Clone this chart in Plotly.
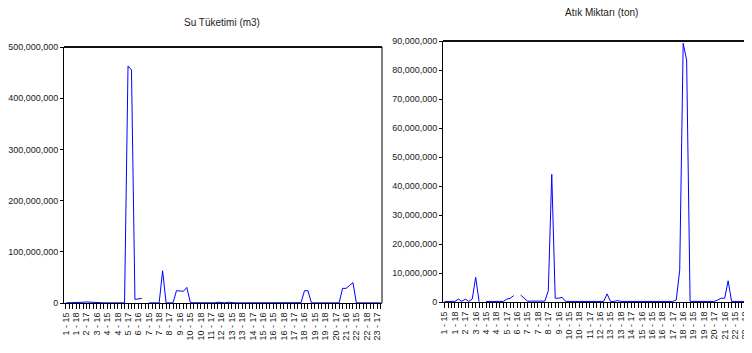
import plotly.graph_objects as go

# observation index 0..91 (23 units x years 15..18)
obs_index = list(range(92))
tick_positions = list(range(0, 92, 3))
tick_labels = ["1 - 15", "1 - 18", "2 - 17", "3 - 16", "4 - 15", "4 - 18", "5 - 17", "6 - 16",
               "7 - 15", "7 - 18", "8 - 17", "9 - 16", "10 - 15", "10 - 18", "11 - 17", "12 - 16",
               "13 - 15", "13 - 18", "14 - 17", "15 - 16", "16 - 15", "16 - 18", "17 - 17", "18 - 16",
               "19 - 15", "19 - 18", "20 - 17", "21 - 16", "22 - 15", "22 - 18", "23 - 17"]

N = None
# Su Tüketimi (m3), millions
su_tuketimi_m = [0.3, 0.3, 0.3, 0.3, 0.3, 1.5, 2.0, 1.5, 0.3, 0.3,
                 0.3, 0.3, 0.3, 0.3, 0.3, 0.3, 0.3, 0.3, 463, 455,
                 7.0, 7.5, 9.0, N, 0.3, 0.3, 0.3, 0.3, 63, 0.3,
                 0.3, 0.3, 24, 23.5, 23, 30.5, 1.0, 0.5, 0.3, 0.3,
                 0.3, 0.3, 0.3, 0.3, 1.5, 0.5, 0.3, 1.5, 0.3, 0.3,
                 0.3, 0.3, 0.3, 0.3, 0.3, 0.3, 0.3, 0.3, 0.3, 0.3,
                 0.3, 0.6, 0.6, 0.6, 0.6, 0.6, 0.6, 0.6, 0.6, 24,
                 24, 0.3, 0.3, 0.3, 0.3, 0.3, 0.3, 0.3, 0.3, 0.3,
                 28.6, 28.6, 34, 40, 0.3, 0.3, 0.3, 0.3, 0.3, 0.3,
                 0.3, 0.3]

# Atık Miktarı (ton), millions
atik_miktari_m = [0.2, 0.2, 0.2, 0.2, 1.0, 0.2, 1.0, 0.2, 1.0, 8.5,
                  0.1, N, 0.2, 0.2, 0.2, 0.2, 0.2, 0.2, 1.0, 1.3,
                  2.2, N, 2.4, 1.3, 0.3, 0.3, 0.3, 0.3, 0.3, 0.3,
                  3.9, 44, 1.3, 1.3, 1.6, 0.2, 0.2, 0.2, 0.2, 0.2,
                  0.2, 0.2, 0.2, 0.2, 0.2, 0.2, 0.2, 2.8, 0.2, 0.2,
                  0.5, 0.2, 0.2, 0.2, 0.2, 0.2, 0.2, 0.2, 0.2, 0.2,
                  0.2, 0.2, 0.2, 0.2, 0.2, 0.2, 0.2, 0.7, 11, 89.2,
                  83.4, 0.2, 0.2, 0.2, 0.2, 0.2, 0.2, 0.2, 0.2, 0.7,
                  1.3, 1.3, 7.3, 0.2, 0.2, 0.2, 0.2, 0.2, 0.2, 0.2,
                  0.2, 0.2]

su_vals = [v * 1e6 if v is not None else None for v in su_tuketimi_m]
atik_vals = [v * 1e6 if v is not None else None for v in atik_miktari_m]

# page has an 8px body margin; figure drawn at (8, 8) on a 752x353 window
OFF = 8
W, H = 752 - OFF, 353 - OFF
FONT = "Liberation Sans, Arial, sans-serif"
TXT = "#1a1a1a"

fig = go.Figure()
fig.add_trace(go.Scatter(x=obs_index, y=su_vals, mode="lines", line=dict(color="#0000ff", width=1),
                         connectgaps=False, xaxis="x", yaxis="y", showlegend=False, hoverinfo="skip"))
fig.add_trace(go.Scatter(x=obs_index, y=atik_vals, mode="lines", line=dict(color="#0000ff", width=1),
                         connectgaps=False, xaxis="x2", yaxis="y2", showlegend=False, hoverinfo="skip"))

def px_x(p):
    return (p - OFF) / W

def px_y(p):
    return 1 - (p - OFF) / H

xcommon = dict(showgrid=False, zeroline=False, showline=True, linecolor="#000", linewidth=1,
               ticks="outside", ticklen=5, tickwidth=1, tickcolor="#000",
               tickvals=tick_positions, ticktext=tick_labels, tickangle=-90,
               tickfont=dict(family=FONT, size=9, color=TXT), automargin=False,
               minor=dict(dtick=1, tick0=0, ticks="outside", ticklen=5, tickwidth=1, tickcolor="#000", showgrid=False),
               layer="below traces", fixedrange=True)
ycommon = dict(showgrid=False, zeroline=False, showline=True, linecolor="#000", linewidth=1,
               ticks="outside", ticklen=3, tickwidth=1, tickcolor="#000", automargin=False,
               tickfont=dict(family=FONT, size=9, color=TXT), tickformat=",d",
               layer="below traces", fixedrange=True)

fig.update_layout(
    width=W, height=H, margin=dict(l=0, r=0, t=0, b=0, autoexpand=False),
    paper_bgcolor="white", plot_bgcolor="white",
    xaxis=dict(domain=[px_x(64), px_x(382)], range=[-0.5, 91.4], anchor="y", **xcommon),
    yaxis=dict(domain=[px_y(303), px_y(47)], range=[0, 5e8], dtick=1e8, anchor="x", **ycommon),
    xaxis2=dict(domain=[px_x(443), 1.0], range=[-0.45, 88.9], anchor="y2", **xcommon),
    yaxis2=dict(domain=[px_y(302), px_y(41)], range=[0, 9e7], dtick=1e7, anchor="x2", **ycommon),
    shapes=[
        dict(type="line", xref="x domain", yref="y domain", x0=0, x1=1, y0=1, y1=1,
             line=dict(color="#111", width=2)),
        dict(type="line", xref="x domain", yref="y domain", x0=1, x1=1, y0=0, y1=1,
             line=dict(color="#000", width=1)),
        dict(type="line", xref="x2 domain", yref="y2 domain", x0=0, x1=1, y0=1, y1=1,
             line=dict(color="#111", width=2)),
    ],
    annotations=[
        dict(text="Su Tüketimi (m3)", xref="paper", yref="paper", x=px_x(222), y=px_y(22),
             showarrow=False, xanchor="center", yanchor="middle",
             font=dict(family=FONT, size=10, color=TXT)),
        dict(text="Atık Miktarı (ton)", xref="paper", yref="paper", x=px_x(601), y=px_y(12),
             showarrow=False, xanchor="center", yanchor="middle",
             font=dict(family=FONT, size=10, color=TXT)),
    ],
)

fig.write_html("out.html")
